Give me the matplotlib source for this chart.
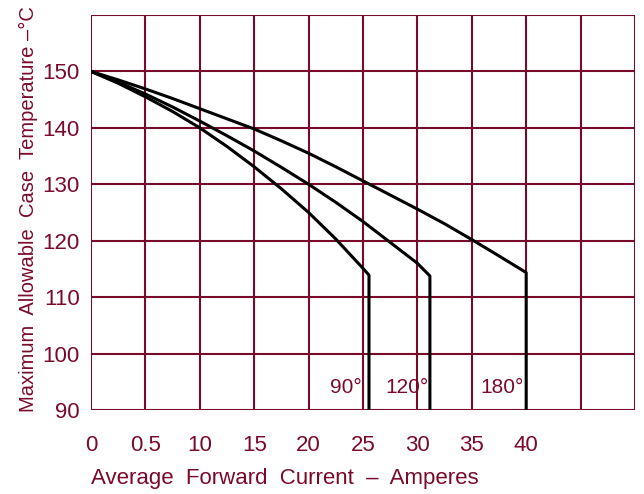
import matplotlib.pyplot as plt

# Derating curves (current in A, case temp in degC)
x_90 = [0, 2.5, 5, 7.5, 10, 12.5, 15, 17.5, 20, 22.5, 25, 25.55, 25.55]
y_90 = [150, 147.9, 145.5, 142.9, 140.0, 136.7, 133.1, 129.2, 125.0, 120.3, 115.1, 113.9, 90]
x_120 = [0, 2.5, 5, 7.5, 10, 12.5, 15, 17.5, 20, 22.5, 25, 27.5, 30, 31.15, 31.15]
y_120 = [150, 148.1, 146.0, 143.7, 141.2, 138.6, 135.9, 133.0, 130.0, 126.8, 123.4, 119.7,
         116.0, 113.75, 90]
x_180 = [0, 2.5, 5, 7.5, 10, 12.5, 15, 17.5, 20, 22.5, 25, 27.5, 30, 32.5, 35, 37.5, 40, 40]
y_180 = [150, 148.5, 146.9, 145.2, 143.4, 141.6, 139.8, 137.7, 135.5, 133.1, 130.6, 128.1,
         125.6, 123.0, 120.2, 117.3, 114.35, 90]

angle_labels = ["90°", "120°", "180°"]
angle_label_x = [24.9, 31.0, 39.8]

x_ticks = [0, 5, 10, 15, 20, 25, 30, 35, 40]
x_tick_labels = ["0", "0.5", "10", "15", "20", "25", "30", "35", "40"]
y_ticks = [90, 100, 110, 120, 130, 140, 150]

maroon = "#7a0a2a"
font = ["Liberation Sans", "DejaVu Sans"]

fig = plt.figure(figsize=(6.44, 4.94), dpi=100)
ax = fig.add_axes([91 / 644, 1 - 410 / 494, 544 / 644, 395 / 494])
ax.set_xlim(0, 50)
ax.set_ylim(90, 160)

# grid
for gx in range(0, 51, 5):
    ax.axvline(gx, color=maroon, lw=1.5, zorder=1)
for gy in range(90, 161, 10):
    ax.axhline(gy, color=maroon, lw=1.5, zorder=1)

for xs, ys in [(x_90, y_90), (x_120, y_120), (x_180, y_180)]:
    ax.plot(xs, ys, color="black", lw=2.2, zorder=3)

for lab, lx in zip(angle_labels, angle_label_x):
    ax.text(lx, 94.0, lab, ha="right", va="center", color=maroon,
            fontsize=15, family=font, zorder=4)

for s in ax.spines.values():
    s.set_visible(False)
ax.set_xticks(x_ticks)
ax.set_xticklabels(x_tick_labels)
ax.set_yticks(y_ticks)
ax.tick_params(length=0, colors=maroon, labelsize=16)
ax.tick_params(axis="y", pad=8)
ax.tick_params(axis="x", pad=18)
for t in ax.get_xticklabels() + ax.get_yticklabels():
    t.set_family(font)

fig.text(91 / 644, 1 - 478 / 494, "Average  Forward  Current  \u2013  Amperes",
         ha="left", va="center", color=maroon, fontsize=16, family=font)
fig.text(28 / 644, 1 - 412 / 494, "Maximum  Allowable  Case  Temperature \u2013°C",
         ha="center", va="bottom", rotation=90, color=maroon, fontsize=14.5,
         family=font)

fig.savefig("out.png", dpi=100)
